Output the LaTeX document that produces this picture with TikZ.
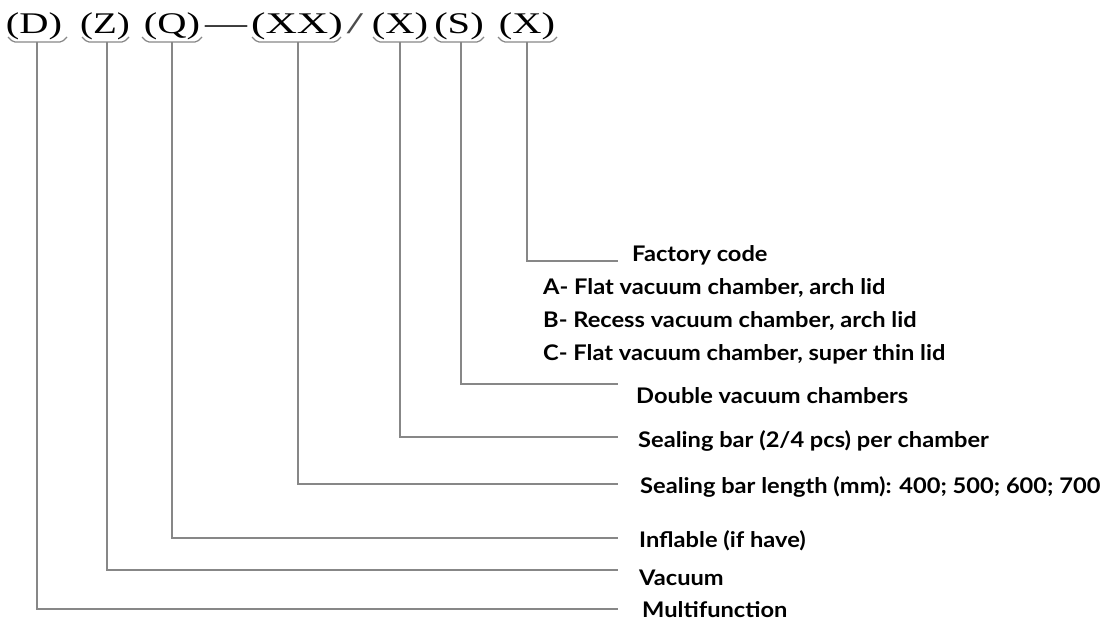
\documentclass[tikz,border=0pt]{standalone}
\usepackage{fontspec}
\setmainfont{Liberation Serif}
\newfontfamily\labfont{Lato}
\definecolor{lnc}{RGB}{135,135,135}
\newcommand\lbtxt[1]{\scalebox{1.1}[1]{#1}}
\begin{document}
\begin{tikzpicture}[x=1pt,y=-1pt,
  hdr/.style={anchor=base,inner sep=0pt,font=\fontsize{30}{30}\selectfont},
  lab/.style={anchor=base west,inner sep=0pt,font=\labfont\bfseries\fontsize{21.5}{24}\selectfont},
  conn/.style={draw=lnc,line width=1.5pt},
  brace/.style={draw=lnc,line width=1.2pt,rounded corners=2pt}]
\useasboundingbox (0,0) rectangle (1119,621);
% header
\node[hdr] (hD)  at (34,33)  {\scalebox{1.35}[1]{(D)}};
\node[hdr] (hZ)  at (105,33) {\scalebox{1.3}[1]{(Z)}};
\node[hdr] (hQ)  at (172,33) {\scalebox{1.35}[1]{(Q)}};
\node[hdr] (hd)  at (226,33) {\scalebox{1.4}[1]{—}};
\node[hdr] (hXX) at (297,33) {\scalebox{1.45}[1]{(XX)}};
\node[hdr,text=black!70] (hs)  at (355,33) {\scalebox{2}[1]{/}};
\node[hdr] (hX)  at (400,33) {\scalebox{1.35}[1]{(X)}};
\node[hdr] (hS)  at (459,33) {\scalebox{1.35}[1]{(S)}};
\node[hdr] (hX2) at (527,33) {\scalebox{1.35}[1]{(X)}};
% braces
\draw[brace] (8,37) -- (13,42) -- (62,42) -- (67,37);
\draw[brace] (82,37) -- (87,42) -- (124,42) -- (129,37);
\draw[brace] (142,37) -- (147,42) -- (197,42) -- (202,37);
\draw[brace] (252,37) -- (257,42) -- (336,42) -- (341,37);
\draw[brace] (373,37) -- (378,42) -- (423,42) -- (428,37);
\draw[brace] (434,37) -- (439,42) -- (479,42) -- (484,37);
\draw[brace] (498,37) -- (503,42) -- (552,42) -- (557,37);
% connector start and end points
\coordinate (bD) at (37,42);
\coordinate (bZ) at (107,42);
\coordinate (bQ) at (172,42);
\coordinate (bXX) at (298,42);
\coordinate (bX) at (400,42);
\coordinate (bS) at (461,42);
\coordinate (bX2) at (527,42);
\coordinate (eX2) at (618,261);
\coordinate (eS) at (618,384);
\coordinate (eX) at (618,437);
\coordinate (eXX) at (618,484);
\coordinate (eQ) at (618,538);
\coordinate (eZ) at (618,570);
\coordinate (eD) at (618,609);
\draw[conn] (bX2) |- (eX2);
\draw[conn] (bS) |- (eS);
\draw[conn] (bX) |- (eX);
\draw[conn] (bXX) |- (eXX);
\draw[conn] (bQ) |- (eQ);
\draw[conn] (bZ) |- (eZ);
\draw[conn] (bD) |- (eD);
% labels
\node[lab] (lF) at (632,261) {\lbtxt{Factory code}};
\node[lab] (lA) at (543,294) {\lbtxt{A- Flat vacuum chamber, arch lid}};
\node[lab] (lB) at (543,327) {\lbtxt{B- Recess vacuum chamber, arch lid}};
\node[lab] (lC) at (543,360) {\lbtxt{C- Flat vacuum chamber, super thin lid}};
\node[lab] (lS) at (636,403) {\lbtxt{Double vacuum chambers}};
\node[lab] (lX) at (638,447) {\lbtxt{Sealing bar (2/4 pcs) per chamber}};
\node[lab] (lXX) at (640,493) {\lbtxt{Sealing bar length (mm): 400; 500; 600; 700}};
\node[lab] (lQ) at (639,547) {\lbtxt{Inflable (if have)}};
\node[lab] (lZ) at (639,585) {\lbtxt{Vacuum}};
\node[lab] (lD) at (642,617) {\lbtxt{Multifunction}};
\end{tikzpicture}
\end{document}
